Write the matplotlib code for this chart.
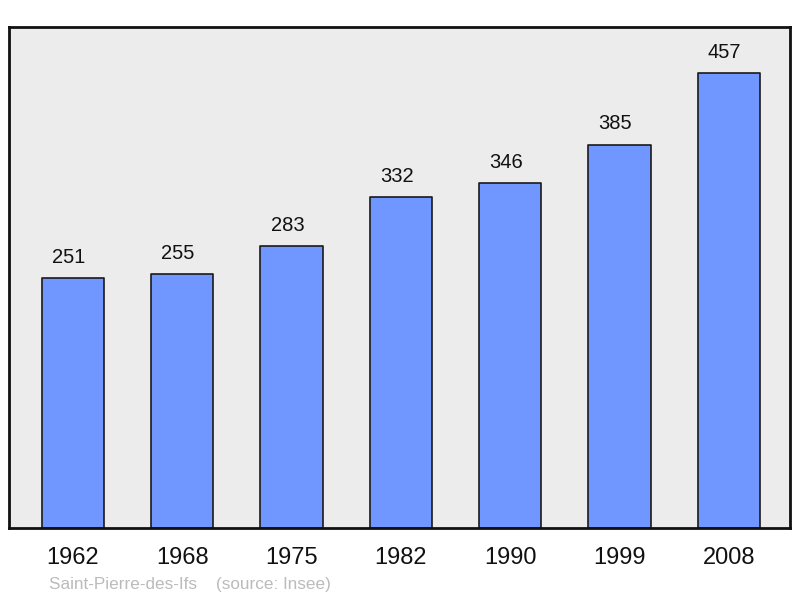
import matplotlib.pyplot as plt

years = ['1962', '1968', '1975', '1982', '1990', '1999', '2008']
population = [251, 255, 283, 332, 346, 385, 457]
commune = 'Saint-Pierre-des-Ifs'
source = '(source: Insee)'

plt.rcParams['font.family'] = ['Liberation Sans', 'DejaVu Sans']

fig = plt.figure(figsize=(8, 5.98), dpi=100)
ax = fig.add_axes([9 / 800, 70 / 598, 781 / 800, 501 / 598])
ax.set_facecolor('#ececec')

x = range(len(years))
bars = ax.bar(x, population, width=0.57, color='#7096ff', edgecolor='#1a1a1a',
              linewidth=1.2, joinstyle='round', zorder=2)

for xi, v in zip(x, population):
    ax.annotate(str(v), (xi, v), xytext=(-3, 8), textcoords='offset points',
                ha='center', va='bottom', fontsize=14.5, color='#111111')

ax.set_xlim(-0.585, 6.56)
ax.set_ylim(0, 503)
ax.set_yticks([])
ax.set_xticks(list(x))
ax.set_xticklabels(years, fontsize=17, color='#111111')
ax.tick_params(axis='x', length=0, pad=14)
for s in ax.spines.values():
    s.set_linewidth(2)
    s.set_color('#111111')

fig.text(49 / 800, 1 - 584 / 598, commune + '    ' + source, fontsize=12.3,
         color='#bbbbbb', ha='left', va='center')

fig.savefig('out.png', dpi=100)
